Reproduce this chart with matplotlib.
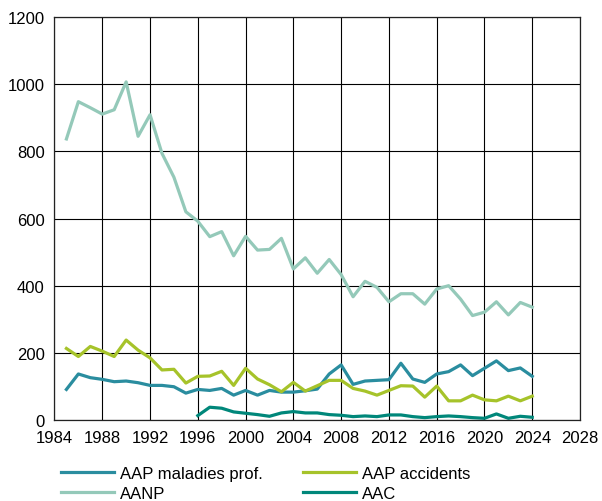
import numpy as np
import matplotlib.pyplot as plt

plt.rcParams['font.family'] = ['Liberation Sans', 'DejaVu Sans']

years = list(range(1985, 2025))
years_aac = list(range(1996, 2025))

maladies_prof = [91, 137, 126, 121, 114, 116, 111, 103, 103, 99,
                 80, 91, 88, 94, 74, 88, 74, 88, 83, 83,
                 87, 92, 137, 164, 106, 116, 118, 120, 169, 122,
                 112, 137, 144, 164, 132, 154, 176, 147, 155, 130]
accidents = [213, 189, 219, 205, 189, 238, 208, 185, 149, 151,
             110, 130, 131, 145, 103, 154, 122, 105, 84, 112,
             86, 102, 118, 118, 94, 86, 74, 88, 102, 101,
             68, 101, 57, 57, 74, 60, 57, 71, 57, 71]
aanp = [837, 948, 930, 911, 924, 1007, 845, 909, 794, 723,
        620, 592, 546, 561, 489, 547, 506, 508, 541, 450,
        483, 437, 478, 433, 367, 413, 395, 352, 376, 376,
        345, 390, 400, 360, 311, 321, 352, 313, 350, 336]
aac = [13, 38, 35, 24, 20, 16, 11, 21, 25,
       21, 21, 16, 14, 10, 12, 10, 15, 15, 10,
       7, 10, 12, 10, 7, 5, 18, 5, 11, 8]

fig = plt.figure(figsize=(6.02, 5.02), dpi=100)
ax = fig.add_axes([0.0905, 0.1614, 0.873, 0.8026])

lw = 2.3
ax.plot(years, maladies_prof, color='#2a8d9f', lw=lw, label='AAP maladies prof.')
ax.plot(years, aanp, color='#94c9b9', lw=lw, label='AANP')
ax.plot(years, accidents, color='#a6c32a', lw=lw, label='AAP accidents')
ax.plot(years_aac, aac, color='#00877a', lw=lw, label='AAC')

ax.set_xlim(1984, 2028)
ax.set_ylim(0, 1200)
ax.set_xticks(np.arange(1984, 2029, 4))
ax.set_yticks(np.arange(0, 1201, 200))
ax.grid(True, color='black', lw=0.8)
ax.set_axisbelow(True)
ax.tick_params(length=0, labelsize=12, pad=7)
for s in ax.spines.values():
    s.set_color('#222222')
    s.set_linewidth(0.9)

fig.legend(loc='upper left', bbox_to_anchor=(0.09, 0.083),
           ncol=2, frameon=False, fontsize=12, handlelength=3.2,
           handletextpad=0.35, columnspacing=2.4, labelspacing=0.3,
           borderaxespad=0)

fig.savefig('out.png', dpi=100)
